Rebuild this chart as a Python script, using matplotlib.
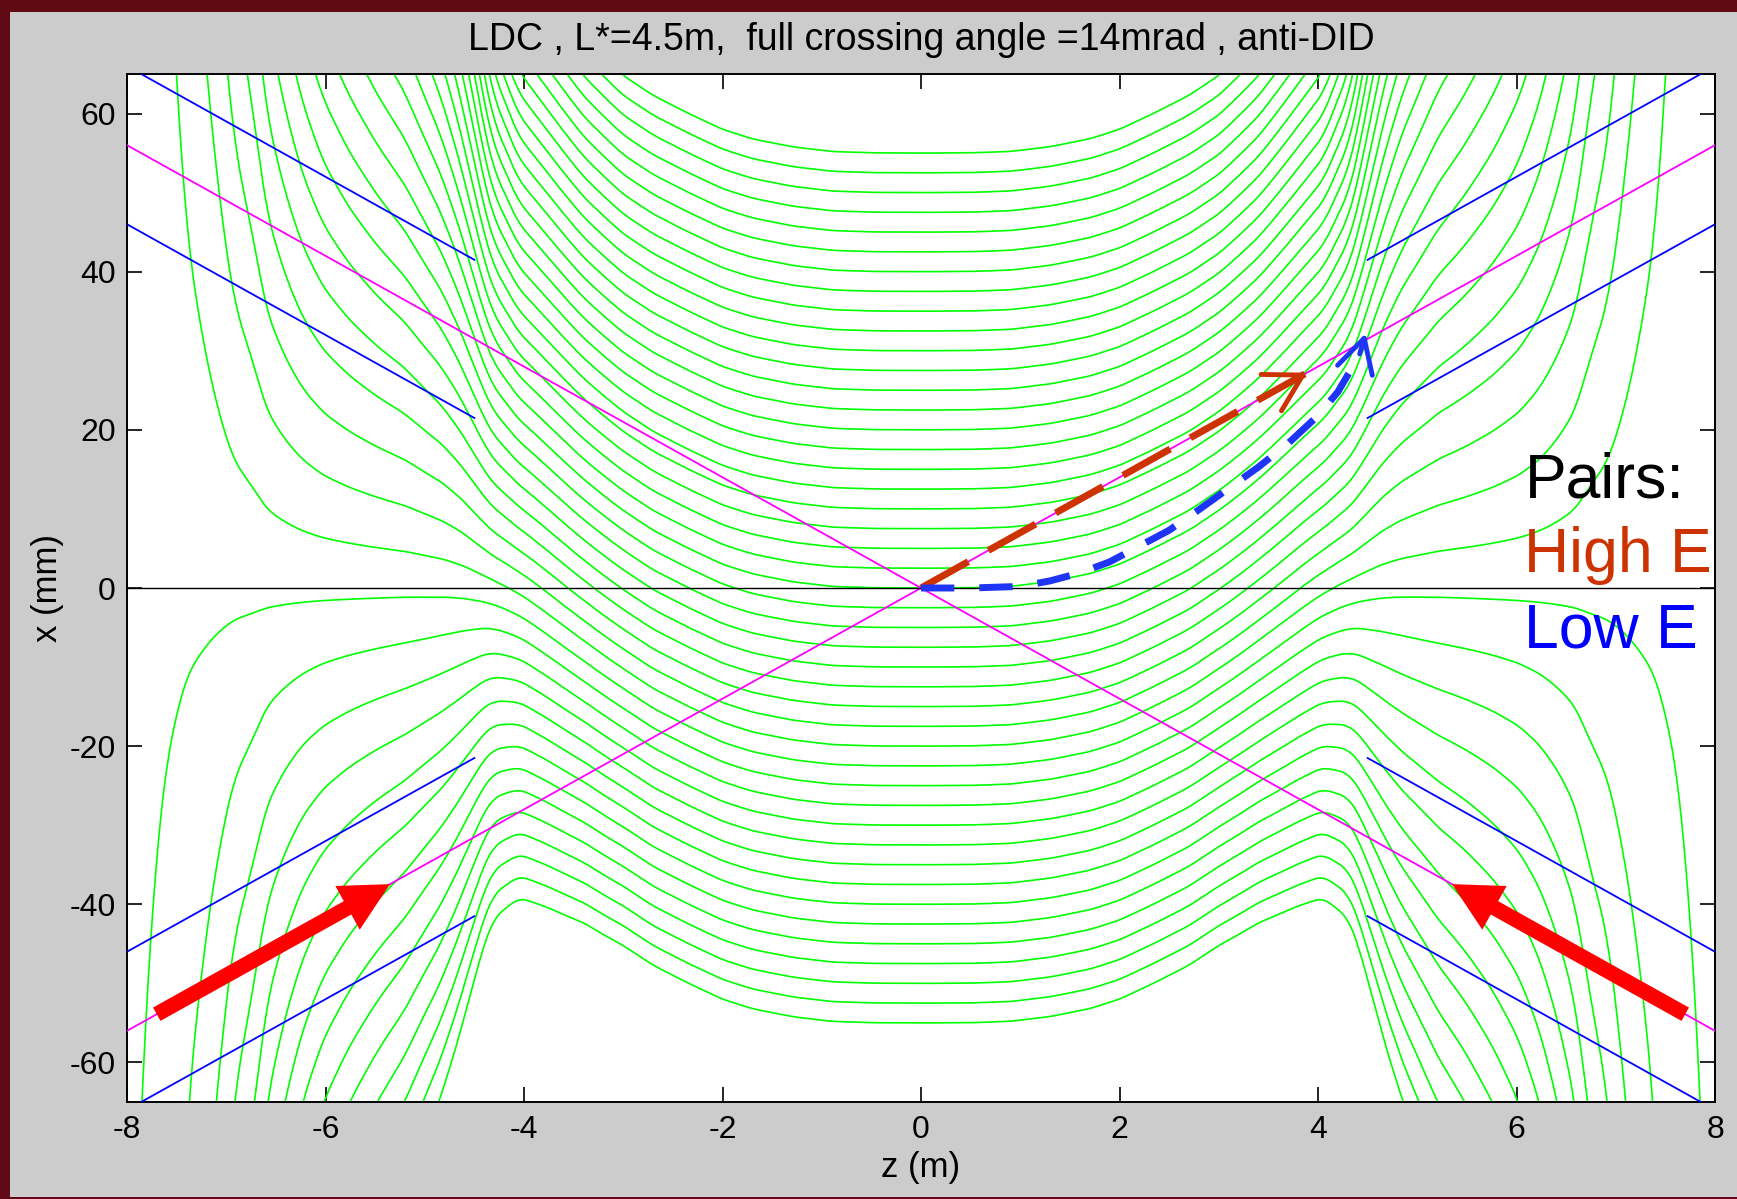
import numpy as np
import matplotlib.pyplot as plt
from matplotlib.patches import Rectangle

plt.rcParams['font.family'] = ['Liberation Sans', 'DejaVu Sans']
plt.rcParams['axes.unicode_minus'] = False

# field lines: x position (mm) of each line at z = 0
line_x0 = [-55, -52.5, -50, -47.5, -45, -42.5, -40, -37.5, -35, -32.5, -30,
           -27.5, -25, -22.5, -20, -17.5, -15, -12.5, -10, -7.5, -5, -2.5, 0,
           2.5, 5, 7.5, 10, 12.5, 15, 17.5, 20, 22.5, 25, 27.5, 30, 32.5, 35,
           37.5, 40, 42.5, 45, 47.5, 50, 52.5, 55]

# sideways shift of the field lines vs |z| (anti-DID)
shift_z = [0, 0.5, 0.9, 1.3, 1.7, 2.0, 2.34, 2.7, 3.0, 3.2, 3.4, 3.6, 3.8,
           4.0, 4.2, 4.4, 4.6, 4.8, 5.2, 8.0]
shift_mm = [0, 0.03, 0.2, 0.8, 1.8, 3.0, 5.0, 7.3, 9.8, 11.6, 13.5, 15.4,
            17.3, 19.0, 20.3, 21.2, 21.7, 21.9, 22.0, 22.0]

# spreading of the field lines vs |z| (solenoid fringe)
spread_z = [0, 3.0, 3.4, 3.75, 4.05, 4.3, 4.4, 4.5, 4.66, 4.84, 5.02, 5.2,
            5.48, 5.76, 6.02, 6.23, 6.41, 6.59, 6.71, 6.92, 7.10, 7.38, 7.6,
            7.85, 8.0]
spread = [1.0, 1.0, 1.02, 1.06, 1.1, 1.22, 1.33, 1.48, 1.72, 1.95, 2.13, 2.32,
          2.55, 2.83, 3.17, 3.61, 4.19, 5.0, 6.19, 8.1, 11.8, 21.7, 45, 130,
          250]

# beams
half_angle = 7.0      # mrad
pipe_radius = 10.0    # mm
lstar = 4.5           # m
arrow_tail_z = 7.7
arrow_tip_z = 5.35

# pair trajectories
high_e_z = [0, 3.89]
low_e_z = [0, 0.5, 1.0, 1.3, 1.6, 1.9, 2.2, 2.5, 2.8, 3.1, 3.4, 3.7, 4.0,
           4.2, 4.35, 4.42, 4.48]
low_e_x = [0, 0, 0.2, 0.9, 1.9, 3.3, 5.3, 7.3, 9.9, 12.6, 15.3, 18.3, 21.8,
           24.8, 28.0, 29.6, 32.2]

high_col = '#cc3300'
low_col = '#1f35f5'


def smooth(a, n=15):
    p = np.pad(a, n, mode='edge')
    return np.convolve(p, np.ones(2 * n + 1) / (2 * n + 1), mode='valid')


fig = plt.figure(figsize=(17.37, 11.99), dpi=100, facecolor='#5f0a14')
fig.add_artist(Rectangle((10 / 1737, 2 / 1199), 1, 1 - 14 / 1199,
                         transform=fig.transFigure, facecolor='#cccccc',
                         edgecolor='none', zorder=-5))

ax = fig.add_axes([127 / 1737, 97 / 1199, 1588 / 1737, 1028 / 1199])

z = np.linspace(-8, 8, 3201)
shift = smooth(np.interp(np.abs(z), shift_z, shift_mm))
grow = np.exp(smooth(np.interp(np.abs(z), spread_z, np.log(spread))))
for x0 in line_x0:
    ax.plot(z, grow * (x0 + shift), color='#00ff00', lw=1.2, zorder=2)

# beam lines (magenta) and beam pipes (blue)
zb = np.array([-8, 8])
ax.plot(zb, half_angle * zb, color='#ff00ff', lw=1.3, zorder=3)
ax.plot(zb, -half_angle * zb, color='#ff00ff', lw=1.3, zorder=3)
for side in (-1, 1):
    zp = np.array([lstar, 8]) * side
    for m in (half_angle, -half_angle):
        for r in (pipe_radius, -pipe_radius):
            ax.plot(zp, m * zp + r, color='#0000ff', lw=1.3, zorder=3)

ax.axhline(0, color='black', lw=1.0, zorder=4)

# incoming beams
for side in (-1, 1):
    tail = (side * arrow_tail_z, -half_angle * arrow_tail_z)
    tip = (side * arrow_tip_z, -half_angle * arrow_tip_z)
    ax.annotate('', xy=tip, xytext=tail, zorder=6,
                arrowprops=dict(arrowstyle='simple,head_length=1.75,head_width=1.8,tail_width=0.55',
                                mutation_scale=20, color='#ff0000', lw=0,
                                shrinkA=0, shrinkB=0))

# high energy pair
hz = np.array(high_e_z)
ax.plot(hz, half_angle * hz, color=high_col, lw=5, linestyle=(0, (7.8, 3.3)),
        zorder=7)
ax.annotate('', xy=(hz[-1], half_angle * hz[-1]),
            xytext=(hz[-1] - 0.1, half_angle * (hz[-1] - 0.1)), zorder=7,
            arrowprops=dict(arrowstyle='->,head_length=1.3,head_width=0.75',
                            mutation_scale=20, color=high_col, lw=3.5,
                            shrinkA=0, shrinkB=0))

# low energy pair
ax.plot(low_e_z[:-1], low_e_x[:-1], color=low_col, lw=5,
        linestyle=(0, (4.8, 3.6)), zorder=7)
ax.annotate('', xy=(low_e_z[-1], low_e_x[-1]),
            xytext=(low_e_z[-2], low_e_x[-2]), zorder=7,
            arrowprops=dict(arrowstyle='->,head_length=1.2,head_width=0.65',
                            mutation_scale=20, color=low_col, lw=3.5,
                            shrinkA=0, shrinkB=0))

ax.text(6.08, 11.5, 'Pairs:', fontsize=45, color='black', va='baseline', zorder=8)
ax.text(6.08, 2.0, 'High E', fontsize=45, color=high_col, va='baseline', zorder=8)
ax.text(6.08, -7.5, 'Low E', fontsize=45, color='#0000ff', va='baseline', zorder=8)

ax.set_xlim(-8, 8)
ax.set_ylim(-65, 65)
ax.set_xticks(range(-8, 9, 2))
ax.set_yticks(range(-60, 61, 20))
ax.tick_params(direction='in', length=11, width=1.2, top=True, right=True,
               labelsize=23)
ax.tick_params(axis='x', pad=9)
ax.tick_params(axis='y', pad=8)
for sp in ax.spines.values():
    sp.set_linewidth(1.4)
ax.set_xlabel('z (m)', fontsize=25, labelpad=5)
ax.set_ylabel('x (mm)', fontsize=25, labelpad=4)
ax.set_title('LDC , L*=4.5m,  full crossing angle =14mrad , anti-DID',
             fontsize=27, pad=17)

plt.savefig('out.png', dpi=100, facecolor=fig.get_facecolor())
